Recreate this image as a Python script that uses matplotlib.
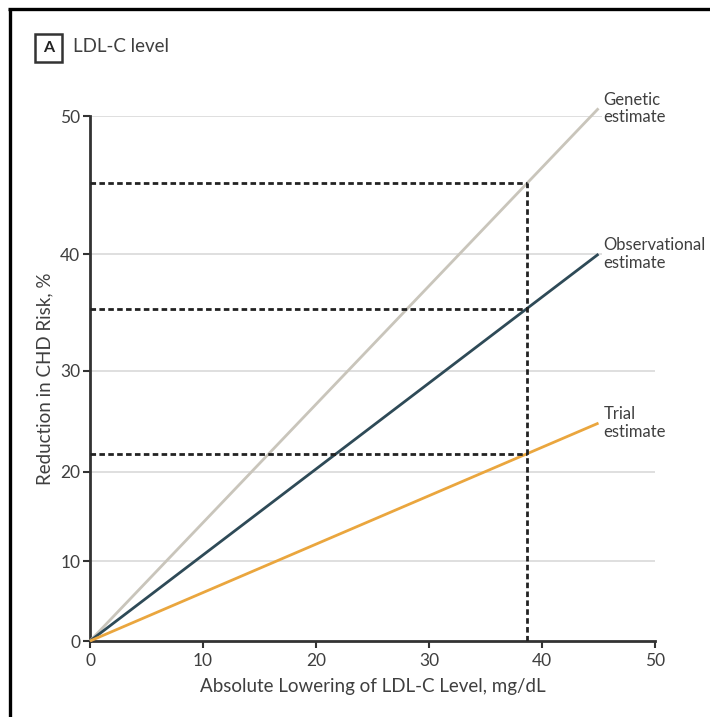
import numpy as np
import matplotlib
matplotlib.use("Agg")
import matplotlib.pyplot as plt
from matplotlib.patches import Rectangle
from matplotlib.lines import Line2D

plt.rcParams['font.family'] = ['Lato', 'DejaVu Sans']

# Data
series_names = ["Genetic\nestimate", "Observational\nestimate", "Trial\nestimate"]
series_colors = ["#c9c5bb", "#2e4a57", "#eaa63e"]
x_start = 0.0
x_end = 45.0
y_end = [50.5, 40.0, 25.0]          # % risk reduction at x_end
ref_x = 38.7                         # mg/dL (1 mmol/L)
ref_y = [45.4, 35.5, 21.9]           # % risk reduction at ref_x
xticks = [0, 10, 20, 30, 40, 50]
yticks = [0, 10, 20, 30, 40, 50]

TXT = "#3f3f3f"

fig = plt.figure(figsize=(7.10, 7.17), dpi=100)
ax = fig.add_axes([90/710, 76/717, 565/710, 525/717])

def fwd(y):
    y = np.asarray(y, dtype=float)
    return -np.log(np.clip(1 - y/100.0, 1e-9, None))

def inv(v):
    v = np.asarray(v, dtype=float)
    return 100.0*(1 - np.exp(-v))

ax.set_yscale('function', functions=(fwd, inv))
ax.set_xlim(0, 50)
ax.set_ylim(0, 50)
ax.set_xticks(xticks)
ax.set_yticks(yticks)

for t in yticks[1:]:
    ax.axhline(t, color="#dcdcdc", lw=1.3, zorder=1)

for name, col, ye, ry in zip(series_names, series_colors, y_end, ref_y):
    ax.plot([x_start, x_end], [0, ye], color=col, lw=2, clip_on=False, zorder=3,
            solid_capstyle='butt')
    ax.plot([0, ref_x], [ry, ry], color="#222222", lw=2, ls=(0, (2.0, 1.2)), zorder=4)
    ax.annotate(name, xy=(x_end, ye), xytext=(5, 0), textcoords='offset pixels',
                ha='left', va='center', fontsize=12, color=TXT, linespacing=1.1,
                annotation_clip=False,
                bbox=dict(boxstyle='square,pad=0.1', fc='white', ec='none'), zorder=5)

ax.plot([ref_x, ref_x], [0, max(ref_y)], color="#222222", lw=2, ls=(0, (2.0, 1.2)), zorder=4)

for s in ['top', 'right']:
    ax.spines[s].set_visible(False)
for s in ['left', 'bottom']:
    ax.spines[s].set_color("#333333")
    ax.spines[s].set_linewidth(2)
ax.tick_params(axis='both', colors="#333333", width=1.5, length=5,
               labelsize=12.5, labelcolor=TXT)
ax.tick_params(axis='x', pad=4)
ax.tick_params(axis='y', pad=2)

ax.set_xlabel("Absolute Lowering of LDL-C Level, mg/dL", fontsize=13.5, color=TXT, labelpad=6)
ax.set_ylabel("Reduction in CHD Risk, %", fontsize=13.5, color=TXT, labelpad=5)

# Panel label
fig.patches.append(Rectangle((35/710, 1 - 62/717), 27/710, 28/717, transform=fig.transFigure,
                             fill=False, ec="#333333", lw=1.8))
fig.text(48.5/710, 1 - 48/717, "A", ha='center', va='center', fontsize=11.5, color="#222222",
         fontweight='bold')
fig.text(73/710, 1 - 47/717, "LDL-C level", ha='left', va='center', fontsize=13.5, color=TXT)

# Outer frame (top and left edges)
fig.add_artist(Line2D([9.5/710, 9.5/710], [0, 1 - 8.5/717], transform=fig.transFigure,
                      color='black', lw=2.4, solid_capstyle='butt'))
fig.add_artist(Line2D([8.2/710, 1], [1 - 8.5/717, 1 - 8.5/717], transform=fig.transFigure,
                      color='black', lw=2.4, solid_capstyle='butt'))

fig.savefig("out.png", dpi=100)
